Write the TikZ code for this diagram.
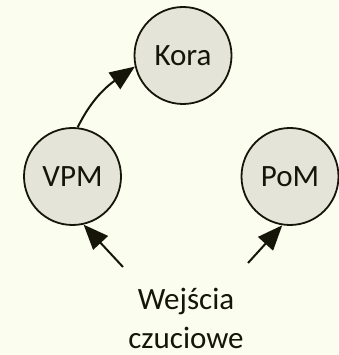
\documentclass[tikz,border=0pt]{standalone}
\usepackage{fontspec}
\setmainfont{Carlito}
\usetikzlibrary{arrows.meta}
\definecolor{bgc}{HTML}{FBFDEF}
\definecolor{cfill}{HTML}{E4E4D8}
\definecolor{ink}{HTML}{15150A}
\begin{document}
\begin{tikzpicture}[x=1pt,y=1pt,
  area/.style={circle,draw=ink,line width=1.8pt,fill=cfill,minimum size=97pt,inner sep=0pt,font=\fontsize{31}{33}\selectfont,text=ink},
  conn/.style={draw=ink,line width=2pt,-{Triangle[length=25pt,width=20pt]}}]
\fill[bgc] (0,0) rectangle (338,355);
\useasboundingbox (0,0) rectangle (338,355);
\node[area] (kora) at (183,299.5) {Kora};
\node[area] (vpm) at (72.5,178.5) {VPM};
\node[area] (pom) at (290,178.5) {PoM};
\node[align=center,inner sep=0pt,text=ink,font=\fontsize{31}{39}\selectfont] (in) at (186,37) {Wejścia\\czuciowe};
\coordinate (s1) at (123,88);
\coordinate (s2) at (248,92);
\draw[conn] (vpm.84) to[out=64,in=215] (kora.193);
\draw[conn] (s1) -- (vpm.-77);
\draw[conn] (s2) -- (pom.-99);
\end{tikzpicture}
\end{document}
